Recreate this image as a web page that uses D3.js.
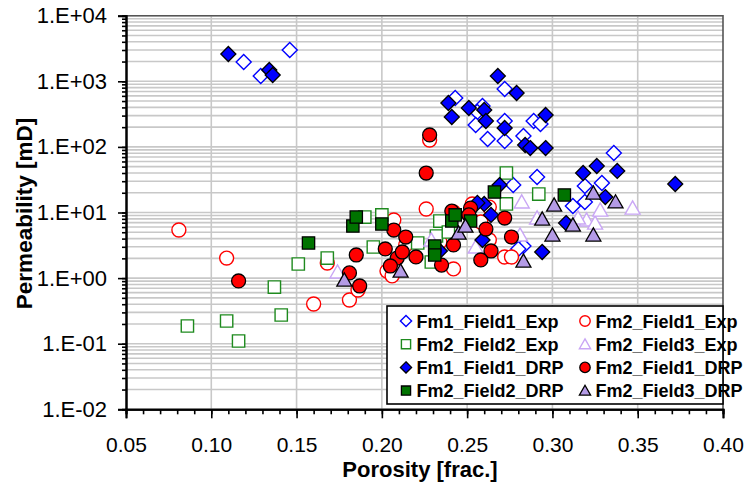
<!DOCTYPE html>
<html>
<head>
<meta charset="utf-8">
<script src="https://cdn.jsdelivr.net/npm/d3@7"></script>
<style>
  body { margin: 0; background: #fff; }
  svg { display: block; font-family: "Liberation Sans", Arial, sans-serif; }
</style>
</head>
<body>
<svg id="chart" width="747" height="485"></svg>
<script>
// Porosity [frac.] and permeability [mD] per sample set
const fm1Field1ExpPor  = [0.119,0.129,0.146,0.243,0.259,0.256,0.272,0.255,0.262,0.272,0.272,0.283,0.289,0.293,0.291,0.277,0.336,0.319,0.329,0.319,0.312,0.283,0.280];
const fm1Field1ExpPerm = [1970,1205,3000,556,420,340,763,216,132,248,123,147,248,223,34.8,26.2,80.7,25.4,28.2,14.5,12.6,3.08,2.78];

const fm2Field1ExpPor  = [0.081,0.109,0.228,0.226,0.207,0.168,0.160,0.181,0.186,0.203,0.206,0.214,0.242,0.234,0.242,0.253,0.263,0.258,0.263,0.272,0.276];
const fm2Field1ExpPerm = [5.41,2.02,127,11.3,7.69,1.70,0.403,0.463,0.659,1.28,1.08,3.2,1.38,3.55,10.2,13.5,12.1,7.16,3.81,2.10,2.10];

const fm2Field2ExpPor  = [0.086,0.109,0.116,0.137,0.141,0.151,0.190,0.200,0.195,0.168,0.221,0.234,0.232,0.239,0.229,0.273,0.292,0.273];
const fm2Field2ExpPerm = [0.186,0.222,0.110,0.731,0.274,1.64,8.53,9.2,2.98,2.02,3.43,7.41,4.38,5.04,1.76,40,19.1,13.5];

const fm2Field3ExpPor  = [0.174,0.229,0.255,0.282,0.291,0.281,0.320,0.325,0.328,0.347,0.315];
const fm2Field3ExpPerm = [1.24,3.81,2.98,14.5,8.24,4.54,7.69,6.9,10.9,11.7,8.24];

const fm1Field1DrpPor  = [0.110,0.134,0.136,0.268,0.279,0.239,0.241,0.251,0.260,0.261,0.272,0.296,0.284,0.287,0.296,0.318,0.326,0.338,0.372,0.269,0.331,0.260,0.256,0.264,0.308,0.259,0.294,0.234];
const fm1Field1DrpPerm = [2606,1486,1248,1205,663,467,286,392,365,248,194,306,107,96,96,40,51.2,43,27.2,26.2,17.2,13.5,14.0,9.2,6.9,3.81,2.50,2.59];

const fm2Field1DrpPor  = [0.116,0.228,0.226,0.207,0.214,0.185,0.202,0.209,0.220,0.205,0.181,0.187,0.241,0.252,0.251,0.261,0.242,0.235,0.264,0.258,0.272,0.276,0.212];
const fm2Field1DrpPerm = [0.904,152,40,5.41,4.23,2.25,2.78,2.02,2.10,1.53,1.20,0.758,10.5,11.7,9.2,5.6,3.2,1.58,2.59,1.89,8.24,4.23,2.50];

const fm2Field2DrpPor  = [0.157,0.183,0.185,0.200,0.241,0.243,0.252,0.266,0.231,0.231,0.307];
const fm2Field2DrpPerm = [3.43,6.22,8.53,6.68,7.41,9.2,7.41,20.5,3.08,2.25,18.5];

const fm2Field3DrpPor  = [0.178,0.211,0.245,0.249,0.283,0.294,0.301,0.312,0.300,0.324,0.337,0.324];
const fm2Field3DrpPerm = [0.935,1.28,4.86,6.22,1.82,7.96,13.0,6.44,4.54,19.8,14.5,4.54];

const xTickValues = [0.05,0.10,0.15,0.20,0.25,0.30,0.35,0.40];
const yTickValues = [1e-2,1e-1,1e0,1e1,1e2,1e3,1e4];
const yTickLabels = ["1.E-02","1.E-01","1.E+00","1.E+01","1.E+02","1.E+03","1.E+04"];

// Series in drawing order (open markers first, filled on top)
const series = [
  {name:"Fm1_Field1_Exp", por:fm1Field1ExpPor, perm:fm1Field1ExpPerm, shape:"diamond",  fill:"#fff",    stroke:"#0000ff", sw:1.4},
  {name:"Fm2_Field1_Exp", por:fm2Field1ExpPor, perm:fm2Field1ExpPerm, shape:"circle",   fill:"#fff",    stroke:"#ff0000", sw:1.4},
  {name:"Fm2_Field2_Exp", por:fm2Field2ExpPor, perm:fm2Field2ExpPerm, shape:"square",   fill:"#fff",    stroke:"#1e8a1e", sw:1.4},
  {name:"Fm2_Field3_Exp", por:fm2Field3ExpPor, perm:fm2Field3ExpPerm, shape:"triangle", fill:"#fff",    stroke:"#c9a6f5", sw:1.4},
  {name:"Fm1_Field1_DRP", por:fm1Field1DrpPor, perm:fm1Field1DrpPerm, shape:"diamond",  fill:"#0000ff", stroke:"#000",    sw:1.3},
  {name:"Fm2_Field1_DRP", por:fm2Field1DrpPor, perm:fm2Field1DrpPerm, shape:"circle",   fill:"#ff0000", stroke:"#000",    sw:1.3},
  {name:"Fm2_Field2_DRP", por:fm2Field2DrpPor, perm:fm2Field2DrpPerm, shape:"square",   fill:"#007300", stroke:"#000",    sw:1.3},
  {name:"Fm2_Field3_DRP", por:fm2Field3DrpPor, perm:fm2Field3DrpPerm, shape:"triangle", fill:"#b49be6", stroke:"#000",    sw:1.3}
];
// legend reads row by row, two columns
const legendOrder = ["Fm1_Field1_Exp","Fm2_Field1_Exp","Fm2_Field2_Exp","Fm2_Field3_Exp",
                     "Fm1_Field1_DRP","Fm2_Field1_DRP","Fm2_Field2_DRP","Fm2_Field3_DRP"];

const svg = d3.select("#chart");
const m = {left:126, top:15.7, right:723, bottom:409.3};

const x = d3.scaleLinear().domain([0.05,0.40]).range([m.left, m.right]);
const y = d3.scaleLog().domain([1e-2,1e4]).range([m.bottom, m.top]);

// marker outlines, size s = nominal half width
function shapePath(shape, s) {
  if (shape === "diamond") return `M0,${-s}L${s},0L0,${s}L${-s},0Z`;
  if (shape === "square") { const h = s*0.82; return `M${-h},${-h}H${h}V${h}H${-h}Z`; }
  if (shape === "triangle") { const h = s*0.95; return `M0,${-h}L${s},${h*0.85}L${-s},${h*0.85}Z`; }
  const r = s*0.93;
  return `M${r},0A${r},${r} 0 1,1 ${-r},0A${r},${r} 0 1,1 ${r},0Z`;
}

// grid: horizontal at every decade step, vertical at major x ticks
const minorY = [];
for (let e = -2; e < 4; e++) for (let k = 1; k < 10; k++) minorY.push(k * Math.pow(10, e));
minorY.push(1e4);

const grid = svg.append("g");
grid.selectAll("line.h").data(minorY).join("line")
  .attr("x1", m.left).attr("x2", m.right)
  .attr("y1", d => y(d)).attr("y2", d => y(d))
  .attr("stroke", "#c8c8c8").attr("stroke-width", 1.6);
grid.selectAll("line.v").data(xTickValues.slice(1, -1)).join("line")
  .attr("x1", d => x(d)).attr("x2", d => x(d))
  .attr("y1", m.top).attr("y2", m.bottom)
  .attr("stroke", "#c8c8c8").attr("stroke-width", 1.6);

// plot frame top and right
svg.append("path")
  .attr("d", `M${m.left},${m.top}H${m.right}V${m.bottom}`)
  .attr("fill", "none").attr("stroke", "#555").attr("stroke-width", 1.6);

// axes
const xMinor = d3.range(5, 41).map(v => v / 100);
const xAxisG = svg.append("g").attr("transform", `translate(0,${m.bottom})`);
xAxisG.call(d3.axisBottom(x).tickValues(xMinor).tickSize(5).tickFormat(""));
xAxisG.append("g").call(d3.axisBottom(x).tickValues(xTickValues).tickSize(9).tickPadding(19)
  .tickFormat(d3.format(".2f")));
xAxisG.selectAll(".domain").attr("stroke", "#000").attr("stroke-width", 2);
xAxisG.selectAll(".tick line").attr("stroke", "#000").attr("stroke-width", 1.6);
xAxisG.selectAll("text").attr("font-size", 21).attr("fill", "#000")
  .attr("font-family", "'Liberation Sans', Arial, sans-serif");

const yAxisG = svg.append("g").attr("transform", `translate(${m.left},0)`);
yAxisG.call(d3.axisLeft(y).tickValues(minorY).tickSize(4).tickFormat(""));
yAxisG.append("g").call(d3.axisLeft(y).tickValues(yTickValues).tickSize(8).tickPadding(11)
  .tickFormat((d, i) => yTickLabels[i]));
yAxisG.selectAll(".domain").attr("stroke", "#000").attr("stroke-width", 2);
yAxisG.selectAll(".tick line").attr("stroke", "#000").attr("stroke-width", 1.6);
yAxisG.selectAll("text").attr("font-size", 22).attr("fill", "#000")
  .attr("font-family", "'Liberation Sans', Arial, sans-serif");

// axis titles
svg.append("text").attr("x", 420).attr("y", 477).attr("text-anchor", "middle")
  .attr("font-size", 22).attr("font-weight", "bold").text("Porosity [frac.]");
svg.append("text").attr("transform", `translate(32,${(m.top + m.bottom) / 2 + 1}) rotate(-90)`)
  .attr("text-anchor", "middle").attr("font-size", 22.5).attr("font-weight", "bold")
  .text("Permeability [mD]");

// data points
const pts = svg.append("g");
series.forEach(s => {
  pts.append("g").selectAll("path")
    .data(s.por.map((p, i) => [p, s.perm[i]]))
    .join("path")
    .attr("transform", d => `translate(${x(d[0])},${y(d[1])})`)
    .attr("d", shapePath(s.shape, 7.5))
    .attr("fill", s.fill).attr("stroke", s.stroke).attr("stroke-width", s.sw)
    .attr("stroke-linejoin", "miter");
});

// legend
const lg = svg.append("g");
lg.append("rect").attr("x", 387).attr("y", 306).attr("width", 336).attr("height", 98)
  .attr("fill", "#fff").attr("stroke", "#000").attr("stroke-width", 1.6);
series.forEach(s => {
  const k = legendOrder.indexOf(s.name);
  const r = Math.floor(k / 2), c = k % 2;
  const cy = 321 + r * 23.2;
  const mx = c === 0 ? 406 : 585;
  lg.append("path").attr("transform", `translate(${mx},${cy})`)
    .attr("d", shapePath(s.shape, 5.6))
    .attr("fill", s.fill).attr("stroke", s.stroke).attr("stroke-width", s.sw);
  lg.append("text").attr("x", mx + 10.5).attr("y", cy + 6.5)
    .attr("font-size", 18).attr("font-weight", "bold").text(s.name);
});
</script>
</body>
</html>
